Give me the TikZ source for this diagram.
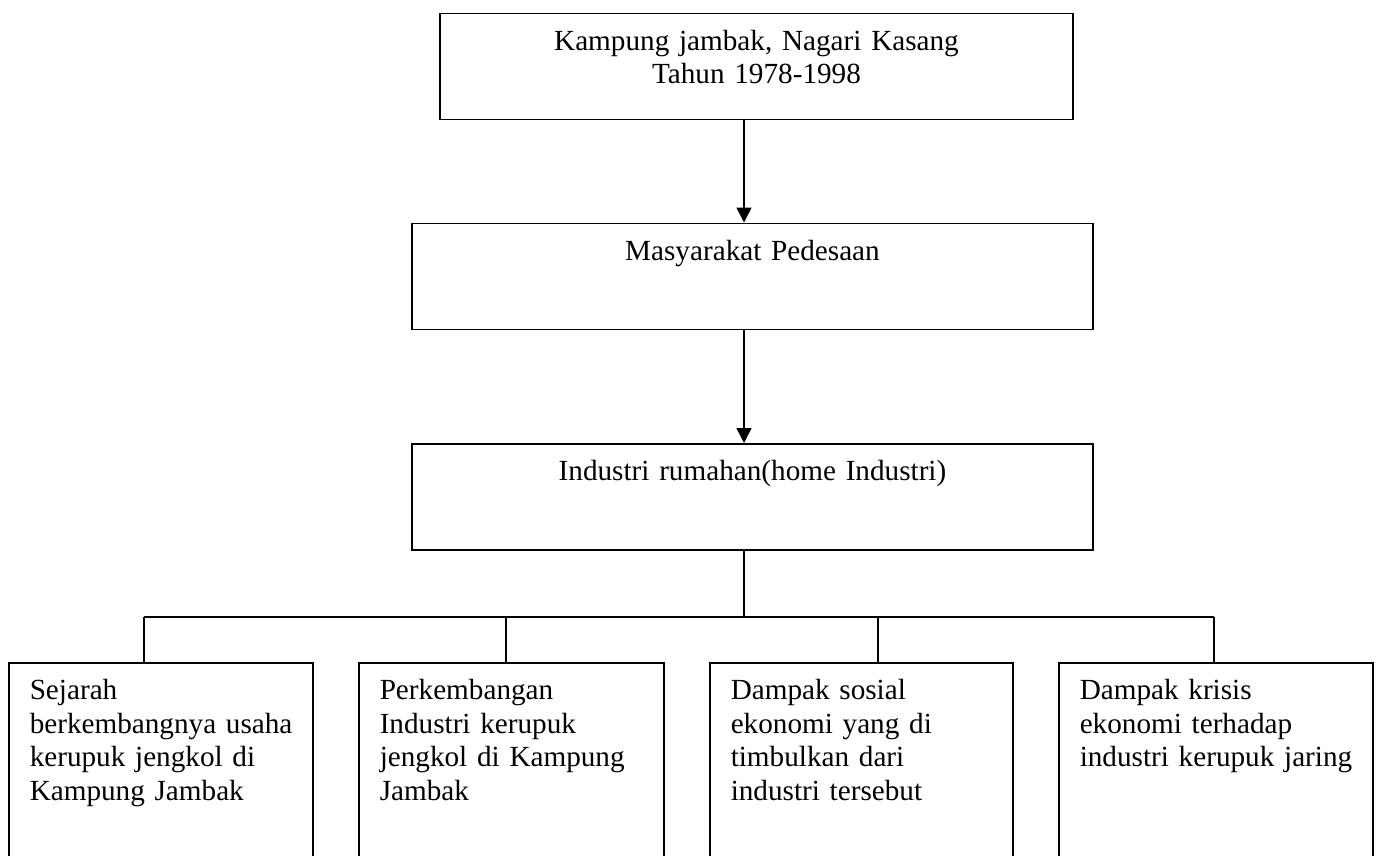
\documentclass[tikz,border=0pt]{standalone}
\usepackage{fontspec}
\setmainfont{Liberation Serif}
\usepackage{tikz}
\usetikzlibrary{arrows.meta, positioning}
\hyphenpenalty=10000
\exhyphenpenalty=10000
\hbadness=10000
\hfuzz=20pt

\begin{document}
\begin{tikzpicture}[x=1pt, y=-1pt, >={Triangle[length=15pt, width=15pt]}]
        \tikzset{
            headnode/.style={draw, line width=1.5pt, rectangle, inner sep=0pt, align=center, text height=37pt, text depth=69pt, font=\fontsize{29.2}{33}\selectfont},
            itemnode/.style={draw, line width=1.5pt, rectangle, inner xsep=21pt, inner ysep=0pt, align=left, anchor=north west, text height=37pt, text depth=240pt, font=\fontsize{29.2}{33.5}\selectfont},
            link/.style={line width=1.5pt}
        }
        \clip (0,0) rectangle (1378,856);

        \node [headnode, text width=633pt, anchor=north] (lokasi) at (756.5,13) {Kampung jambak, Nagari Kasang\\Tahun 1978-1998};
        \node [headnode, text width=681pt, below=102pt of lokasi, xshift=-4pt] (masyarakat) {Masyarakat Pedesaan};
        \node [headnode, text width=681pt, below=113pt of masyarakat] (industri) {Industri rumahan(home Industri)};

        \node [itemnode, text width=262pt] (sejarah) at (8,662) {Sejarah\\\mbox{berkembangnya usaha}\\kerupuk jengkol di\\Kampung Jambak};
        \node [itemnode, text width=263pt] (perkembangan) at (358,662) {Perkembangan\\Industri kerupuk\\\mbox{jengkol di Kampung}\\Jambak};
        \node [itemnode, text width=261pt] (sosial) at (709,662) {Dampak sosial\\ekonomi yang di\\timbulkan dari\\industri tersebut};
        \node [itemnode, text width=272pt] (krisis) at (1058,662) {Dampak krisis\\ekonomi terhadap\\\mbox{industri kerupuk jaring}};

        % arrow axis and branch points
        \coordinate (axis) at (744,0);
        \coordinate (bus) at (744,617);
        \coordinate (b1) at (144,617);
        \coordinate (b2) at (506,617);
        \coordinate (b3) at (878,617);
        \coordinate (b4) at (1214,617);

        \draw [->, link] (lokasi.south -| axis) -- (masyarakat.north -| axis);
        \draw [->, link] (masyarakat.south -| axis) -- (industri.north -| axis);
        \draw [link] (industri.south -| bus) -- (bus);
        \draw [link] (b1) -- (b4);
        \draw [link] (b1) -- (sejarah.north -| b1);
        \draw [link] (b2) -- (perkembangan.north -| b2);
        \draw [link] (b3) -- (sosial.north -| b3);
        \draw [link] (b4) -- (krisis.north -| b4);
    \end{tikzpicture}
\end{document}
